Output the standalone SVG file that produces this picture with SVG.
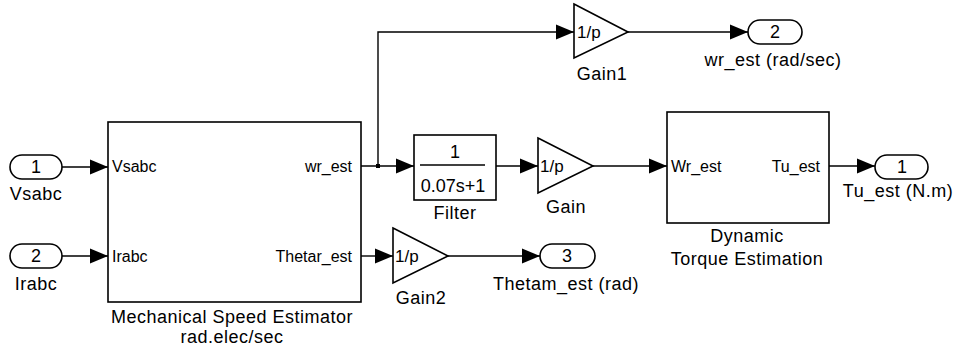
<svg xmlns="http://www.w3.org/2000/svg" width="955" height="354" viewBox="0 0 955 354">
<defs>
<marker id="ah" markerUnits="userSpaceOnUse" markerWidth="19" markerHeight="16" refX="18" refY="8" orient="auto">
<path d="M0,0.5 L18,8 L0,15.5 z" fill="#000"/>
</marker>
<style>
.blk{fill:#fff;stroke:#000;stroke-width:1.6}
.port{fill:#fff;stroke:#000;stroke-width:1.6}
.ln{fill:none;stroke:#000;stroke-width:1.4;marker-end:url(#ah)}
text{font-family:"Liberation Sans",Arial,sans-serif;fill:#000}
.nm{font-size:18px;text-anchor:middle;letter-spacing:0.5px}
.pl{font-size:16px}
.num{font-size:18px;text-anchor:middle}
.gt{font-size:17px}
</style>
</defs>
<g id="in1">
<rect class="port" x="10" y="155" width="52" height="24" rx="12"/>
<text class="num" x="36" y="173">1</text>
<text class="nm" x="36" y="200">Vsabc</text>
</g>
<g id="in2">
<rect class="port" x="10" y="244" width="52" height="24" rx="12"/>
<text class="num" x="36" y="262">2</text>
<text class="nm" x="36" y="290">Irabc</text>
</g>
<g id="mse">
<rect class="blk" x="108" y="122" width="253" height="180"/>
<text class="pl" x="112" y="172">Vsabc</text>
<text class="pl" x="112" y="262">Irabc</text>
<text class="pl" x="352" y="172" text-anchor="end">wr_est</text>
<text class="pl" x="352" y="262" text-anchor="end">Thetar_est</text>
<text class="nm" x="232" y="323">Mechanical Speed Estimator</text>
<text class="nm" x="232" y="343">rad.elec/sec</text>
</g>
<g id="filter">
<rect class="blk" x="414" y="135" width="82" height="65"/>
<line x1="420" y1="165" x2="485" y2="165" stroke="#000" stroke-width="1.4"/>
<text class="num" x="455" y="158">1</text>
<text class="num" x="453" y="192">0.07s+1</text>
<text class="nm" x="455" y="219">Filter</text>
</g>
<g id="gain">
<path class="blk" d="M538,138 L593,166 L538,193 z"/>
<text class="gt" x="540" y="172">1/p</text>
<text class="nm" x="566" y="213">Gain</text>
</g>
<g id="gain1">
<path class="blk" d="M574,4 L628,32 L574,58 z"/>
<text class="gt" x="577" y="38">1/p</text>
<text class="nm" x="602" y="80">Gain1</text>
</g>
<g id="gain2">
<path class="blk" d="M393,228 L448,256 L393,283 z"/>
<text class="gt" x="395" y="262">1/p</text>
<text class="nm" x="421" y="304">Gain2</text>
</g>
<g id="dte">
<rect class="blk" x="667" y="112" width="162" height="111"/>
<text class="pl" x="671" y="172">Wr_est</text>
<text class="pl" x="820" y="172" text-anchor="end">Tu_est</text>
<text class="nm" x="747" y="242">Dynamic</text>
<text class="nm" x="747" y="265">Torque Estimation</text>
</g>
<g id="out1">
<rect class="port" x="875" y="155" width="53" height="24" rx="12"/>
<text class="num" x="902" y="173">1</text>
<text class="nm" x="898" y="197">Tu_est (N.m)</text>
</g>
<g id="out2">
<rect class="port" x="748" y="20" width="54" height="24" rx="12"/>
<text class="num" x="775" y="38">2</text>
<text class="nm" x="773" y="66">wr_est (rad/sec)</text>
</g>
<g id="out3">
<rect class="port" x="540" y="244" width="55" height="24" rx="12"/>
<text class="num" x="567" y="262">3</text>
<text class="nm" x="566" y="290">Thetam_est (rad)</text>
</g>
<g id="connectors">
<line class="ln" x1="62" y1="167" x2="108" y2="167"/>
<line class="ln" x1="62" y1="256" x2="108" y2="256"/>
<line class="ln" x1="361" y1="166" x2="414" y2="166"/>
<polyline class="ln" points="378,166 378,32 574,32"/>
<rect x="376" y="164" width="4" height="4" fill="#000"/>
<line class="ln" x1="496" y1="166" x2="538" y2="166"/>
<line class="ln" x1="593" y1="166" x2="667" y2="166"/>
<line class="ln" x1="829" y1="166" x2="875" y2="166"/>
<line class="ln" x1="628" y1="32" x2="748" y2="32"/>
<line class="ln" x1="361" y1="256" x2="393" y2="256"/>
<line class="ln" x1="448" y1="256" x2="540" y2="256"/>
</g>
</svg>
